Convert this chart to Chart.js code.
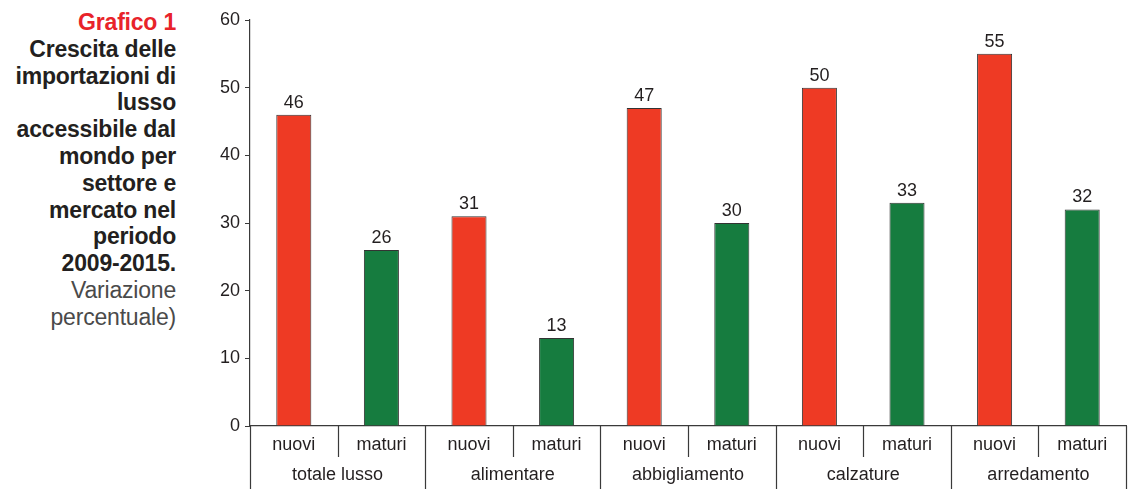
<!DOCTYPE html>
<html>
<head>
<meta charset="utf-8">
<script src="https://cdn.jsdelivr.net/npm/chart.js@4"></script>
<style>
  html, body { margin: 0; padding: 0; background: #fff; }
  #wrap { position: relative; width: 1130px; height: 489px; }
  #title {
    position: absolute; left: 0; top: 9px; width: 176px; text-align: right;
    font-family: "Liberation Sans", Arial, sans-serif; font-size: 23px; line-height: 26.8px;
    color: #231f20; letter-spacing: -0.2px;
  }
  #title .red { color: #e8232a; font-weight: bold; }
  #title .b { font-weight: bold; }
  #title .n { font-weight: normal; color: #4a4a4a; }
  canvas { position: absolute; left: 0; top: 0; }
</style>
</head>
<body>
<div id="wrap">
  <div id="title">
    <span class="red">Grafico 1</span><br>
    <span class="b">Crescita delle<br>importazioni di<br>lusso<br>accessibile dal<br>mondo per<br>settore e<br>mercato nel<br>periodo<br>2009-2015.</span><br>
    <span class="n">Variazione<br>percentuale)</span>
  </div>
  <canvas id="chart" width="1130" height="489"></canvas>
</div>
<script>
// settori e mercati
var sectors = ['totale lusso', 'alimentare', 'abbigliamento', 'calzature', 'arredamento'];
var markets = ['nuovi', 'maturi'];
var nuoviValues = [46, 31, 47, 50, 55];
var maturiValues = [26, 13, 30, 33, 32];
var yTicks = [0, 10, 20, 30, 40, 50, 60];

var RED = '#ee3a24';
var GREEN = '#167c3f';
var FONT = '"Liberation Sans", Arial, sans-serif';

// interleave: nuovi, maturi per settore
var labels = [], values = [], colors = [];
sectors.forEach(function(s, i) {
  labels.push(markets[0]); values.push(nuoviValues[i]); colors.push(RED);
  labels.push(markets[1]); values.push(maturiValues[i]); colors.push(GREEN);
});

// draw value labels, separators and sector row
var groupAxisPlugin = {
  id: 'groupAxis',
  afterDatasetsDraw: function(chart) {
    var ctx = chart.ctx;
    var meta = chart.getDatasetMeta(0);
    ctx.save();
    ctx.font = '18px ' + FONT;
    ctx.fillStyle = '#231f20';
    ctx.textAlign = 'center';
    ctx.textBaseline = 'bottom';
    meta.data.forEach(function(bar, i) {
      ctx.fillText(String(values[i]), bar.x, bar.y - 3);
    });
    ctx.restore();
  },
  afterDraw: function(chart) {
    var ctx = chart.ctx;
    var x = chart.scales.x;
    var area = chart.chartArea;
    var bottom = chart.height;
    var half = (x.getPixelForValue(1) - x.getPixelForValue(0)) / 2;
    ctx.save();
    ctx.strokeStyle = '#3a3a3a';
    ctx.lineWidth = 1.2;
    for (var i = 0; i <= labels.length; i++) {
      var px = Math.round(x.getPixelForValue(i) - half) + 0.5;
      if (i === labels.length) px = Math.round(x.getPixelForValue(i - 1) + half) + 0.5;
      var isGroup = i % 2 === 0;
      ctx.beginPath();
      ctx.moveTo(px, area.bottom);
      ctx.lineTo(px, isGroup ? bottom : area.bottom + 31);
      ctx.stroke();
    }
    ctx.font = '18px ' + FONT;
    ctx.fillStyle = '#231f20';
    ctx.textAlign = 'center';
    ctx.textBaseline = 'middle';
    sectors.forEach(function(s, i) {
      var cx = (x.getPixelForValue(i * 2) + x.getPixelForValue(i * 2 + 1)) / 2;
      ctx.fillText(s, cx, area.bottom + 49);
    });
    ctx.restore();
  }
};

new Chart(document.getElementById('chart'), {
  type: 'bar',
  data: {
    labels: labels,
    datasets: [{
      data: values,
      backgroundColor: colors,
      borderColor: '#333',
      borderWidth: 1,
      borderSkipped: 'bottom',
      barPercentage: 0.8,
      categoryPercentage: 0.5
    }]
  },
  options: {
    responsive: false,
    animation: false,
    layout: { padding: { left: 200, right: 4, top: 20, bottom: 0 } },
    plugins: { legend: { display: false }, tooltip: { enabled: false } },
    scales: {
      x: {
        grid: { display: false },
        border: { display: true, color: '#3a3a3a', width: 1.2 },
        ticks: { color: '#231f20', font: { family: FONT, size: 18 }, padding: 0, maxRotation: 0 },
        afterFit: function(scale) { scale.height = 63; }
      },
      y: {
        min: 0, max: 60,
        afterBuildTicks: function(scale) { scale.ticks = yTicks.map(function(v) { return { value: v }; }); },
        grid: { drawOnChartArea: false, drawTicks: true, tickLength: 5, color: '#3a3a3a' },
        border: { display: true, color: '#3a3a3a', width: 1.2 },
        ticks: { color: '#231f20', font: { family: FONT, size: 18 }, padding: 5 },
        afterFit: function(scale) { scale.width = 50; }
      }
    }
  },
  plugins: [groupAxisPlugin]
});
</script>
</body>
</html>
